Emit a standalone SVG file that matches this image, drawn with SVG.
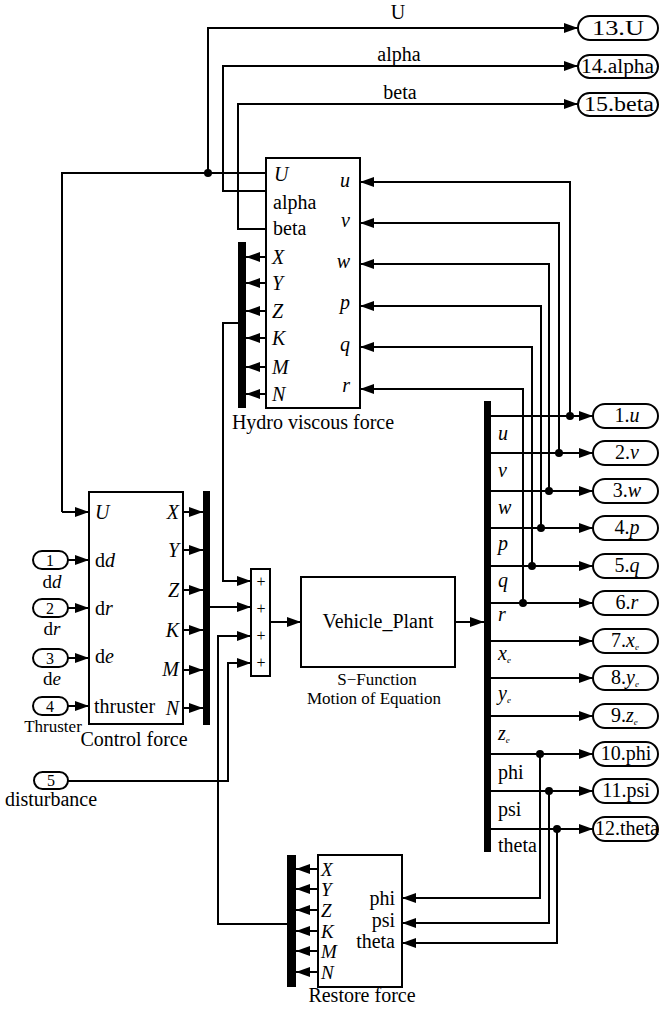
<svg xmlns="http://www.w3.org/2000/svg" width="661" height="1010" viewBox="0 0 661 1010">
<style>
.ln{stroke:#000;stroke-width:2;fill:none}
.ar{stroke:#000;stroke-width:2;fill:none;marker-end:url(#ah)}
.blk{fill:#fff;stroke:#000;stroke-width:2}
.pill{fill:#fff;stroke:#000;stroke-width:2}
.bus{fill:#000}
text{font-family:'Liberation Serif','Times New Roman',Times,serif;font-size:20px;fill:#000}
.it{font-style:italic}
.c{text-anchor:middle}
.r{text-anchor:end}
.sub{font-size:9px;font-style:italic}
.plus{font-size:16px;text-anchor:middle}
.sm{font-size:17px}
.num{font-size:16px;text-anchor:middle}
.rs{font-size:19px}
.lb{font-size:19px;text-anchor:middle}
</style>
<defs>
<marker id="ah" markerUnits="userSpaceOnUse" markerWidth="14" markerHeight="10" refX="14" refY="5" orient="auto">
<path d="M0,0 L14,5 L0,10 Z" fill="#000"/>
</marker>
</defs>
<rect width="661" height="1010" fill="#fff"/>

<g id="connectors">
<path class="ln" d="M265,173 H62 V512"/><path class="ar" d="M62,512 H89"/>
<path class="ar" d="M208,173 V28 H578"/>
<path class="ar" d="M265,191 H223 V66 H578"/>
<path class="ar" d="M265,229 H238 V104 H578"/>
<circle cx="208" cy="173" r="4"/>
<text class="c" x="398" y="19">U</text>
<text class="c" x="399" y="61">alpha</text>
<text class="c" x="400" y="99">beta</text>

<path class="ar" d="M238,323 H223 V581 H251"/>
<path class="ar" d="M210,607 H251"/>
<path class="ar" d="M287,924 H218 V636 H251"/>
<path class="ar" d="M68,781 H228 V663 H251"/>
<path class="ar" d="M270,622 H301"/>
<path class="ar" d="M455,622 H484"/>

<path class="ar" d="M491,416 H593"/>
<path class="ar" d="M491,453 H593"/>
<path class="ar" d="M491,491 H593"/>
<path class="ar" d="M491,528 H593"/>
<path class="ar" d="M491,566 H593"/>
<path class="ar" d="M491,603 H593"/>
<path class="ar" d="M491,641 H593"/>
<path class="ar" d="M491,678 H593"/>
<path class="ar" d="M491,716 H593"/>
<path class="ar" d="M491,754 H593"/>
<path class="ar" d="M491,791 H593"/>
<path class="ar" d="M491,829 H593"/>

<path class="ar" d="M570,416 V182 H360"/>
<path class="ar" d="M559,453 V223 H360"/>
<path class="ar" d="M549,491 V264 H360"/>
<path class="ar" d="M541,528 V306 H360"/>
<path class="ar" d="M532,566 V347 H360"/>
<path class="ar" d="M523,603 V389 H360"/>
<circle cx="570" cy="416" r="4"/>
<circle cx="559" cy="453" r="4"/>
<circle cx="549" cy="491" r="4"/>
<circle cx="541" cy="528" r="4"/>
<circle cx="532" cy="566" r="4"/>
<circle cx="523" cy="603" r="4"/>

<path class="ar" d="M540,754 V898 H402"/>
<path class="ar" d="M549,791 V923 H402"/>
<path class="ar" d="M557,829 V943 H402"/>
<circle cx="540" cy="754" r="4"/>
<circle cx="549" cy="791" r="4"/>
<circle cx="557" cy="829" r="4"/>

<path class="ar" d="M266,257 H246"/>
<path class="ar" d="M266,283 H246"/>
<path class="ar" d="M266,311 H246"/>
<path class="ar" d="M266,338 H246"/>
<path class="ar" d="M266,367 H246"/>
<path class="ar" d="M266,394 H246"/>

<path class="ar" d="M183,512 H203"/>
<path class="ar" d="M183,550 H203"/>
<path class="ar" d="M183,590 H203"/>
<path class="ar" d="M183,630 H203"/>
<path class="ar" d="M183,670 H203"/>
<path class="ar" d="M183,708 H203"/>

<path class="ar" d="M68,560 H89"/>
<path class="ar" d="M68,608 H89"/>
<path class="ar" d="M68,658 H89"/>
<path class="ar" d="M68,706 H89"/>

<path class="ar" d="M318,869 H296"/>
<path class="ar" d="M318,889 H296"/>
<path class="ar" d="M318,910 H296"/>
<path class="ar" d="M318,931 H296"/>
<path class="ar" d="M318,951 H296"/>
<path class="ar" d="M318,972 H296"/>
</g>

<g id="n-hydro">
<rect class="blk" x="266" y="158" width="94" height="250"/>
<rect class="bus" x="238" y="242" width="8" height="166"/>
<text class="it" x="274" y="181">U</text>
<text x="273" y="209">alpha</text>
<text x="273" y="235">beta</text>
<text class="it" x="272" y="264">X</text>
<text class="it" x="272" y="290">Y</text>
<text class="it" x="272" y="318">Z</text>
<text class="it" x="272" y="345">K</text>
<text class="it" x="272" y="374">M</text>
<text class="it" x="272" y="401">N</text>
<text class="it r" x="350" y="187">u</text>
<text class="it r" x="350" y="227">v</text>
<text class="it r" x="350" y="268">w</text>
<text class="it r" x="350" y="309">p</text>
<text class="it r" x="350" y="351">q</text>
<text class="it r" x="350" y="392">r</text>
<text class="c" x="313" y="429">Hydro viscous force</text>
</g>

<g id="n-control">
<rect class="blk" x="89" y="492" width="94" height="232"/>
<rect class="bus" x="203" y="491" width="7" height="234"/>
<text class="it" x="95" y="519">U</text>
<text x="95" y="567">d<tspan class="it">d</tspan></text>
<text x="95" y="615">d<tspan class="it">r</tspan></text>
<text x="95" y="663">d<tspan class="it">e</tspan></text>
<text x="94" y="713">thruster</text>
<text class="it r" x="179" y="519">X</text>
<text class="it r" x="179" y="557">Y</text>
<text class="it r" x="179" y="597">Z</text>
<text class="it r" x="179" y="637">K</text>
<text class="it r" x="179" y="676">M</text>
<text class="it r" x="179" y="715">N</text>
<text class="c" x="134" y="746">Control force</text>
</g>

<g id="n-sum">
<rect class="blk" x="251" y="569" width="19" height="107"/>
<text class="plus" x="261" y="587">+</text>
<text class="plus" x="261" y="614">+</text>
<text class="plus" x="261" y="641">+</text>
<text class="plus" x="261" y="668">+</text>
</g>

<g id="n-plant">
<rect class="blk" x="301" y="577" width="154" height="90"/>
<text class="c" x="378" y="628">Vehicle_Plant</text>
<text class="c sm" x="377" y="685">S−Function</text>
<text class="c sm" x="374" y="704">Motion of Equation</text>
</g>

<g id="n-bus">
<rect class="bus" x="484" y="401" width="7" height="451"/>
<text class="it" x="498" y="440">u</text>
<text class="it" x="498" y="477">v</text>
<text class="it" x="498" y="514">w</text>
<text class="it" x="498" y="550">p</text>
<text class="it" x="498" y="587">q</text>
<text class="it" x="498" y="621">r</text>
<text x="498" y="660"><tspan class="it">x</tspan><tspan class="sub" dy="3">e</tspan></text>
<text x="498" y="700"><tspan class="it">y</tspan><tspan class="sub" dy="3">e</tspan></text>
<text x="498" y="740"><tspan class="it">z</tspan><tspan class="sub" dy="3">e</tspan></text>
<text x="498" y="779">phi</text>
<text x="498" y="816">psi</text>
<text x="498" y="852">theta</text>
</g>

<g id="n-restore">
<rect class="blk" x="318" y="855" width="84" height="132"/>
<rect class="bus" x="287" y="855" width="9" height="132"/>
<text class="it rs" x="321" y="876">X</text>
<text class="it rs" x="321" y="896">Y</text>
<text class="it rs" x="321" y="917">Z</text>
<text class="it rs" x="321" y="938">K</text>
<text class="it rs" x="321" y="958">M</text>
<text class="it rs" x="321" y="979">N</text>
<text class="r" x="395" y="905">phi</text>
<text class="r" x="395" y="927">psi</text>
<text class="r" x="395" y="948">theta</text>
<text class="c" x="362" y="1002">Restore force</text>
</g>

<g id="n-in1"><rect class="pill" x="33" y="551" width="35" height="18" rx="9"/><text class="num" x="50" y="566">1</text><text class="lb" x="52" y="588">d<tspan class="it">d</tspan></text></g>
<g id="n-in2"><rect class="pill" x="33" y="599" width="35" height="18" rx="9"/><text class="num" x="50" y="614">2</text><text class="lb" x="52" y="635">d<tspan class="it">r</tspan></text></g>
<g id="n-in3"><rect class="pill" x="33" y="649" width="35" height="18" rx="9"/><text class="num" x="50" y="664">3</text><text class="lb" x="52" y="685">d<tspan class="it">e</tspan></text></g>
<g id="n-in4"><rect class="pill" x="33" y="697" width="35" height="18" rx="9"/><text class="num" x="50" y="712">4</text><text class="c sm" x="53" y="732">Thruster</text></g>
<g id="n-in5"><rect class="pill" x="34" y="772" width="34" height="17" rx="8.5"/><text class="num" x="51" y="786">5</text><text class="c" x="51" y="806">disturbance</text></g>

<g id="n-out13"><rect class="pill" x="578" y="16" width="80" height="24" rx="12"/><text x="592" y="35" textLength="52" lengthAdjust="spacingAndGlyphs">13.U</text></g>
<g id="n-out14"><rect class="pill" x="578" y="55" width="80" height="23" rx="11.5"/><text x="581" y="73" textLength="73" lengthAdjust="spacingAndGlyphs">14.alpha</text></g>
<g id="n-out15"><rect class="pill" x="578" y="93" width="80" height="23" rx="11.5"/><text x="584" y="111" textLength="70" lengthAdjust="spacingAndGlyphs">15.beta</text></g>

<g id="n-out1"><rect class="pill" x="593" y="404" width="65" height="24" rx="12"/><text class="c" x="627" y="422">1.<tspan class="it">u</tspan></text></g>
<g id="n-out2"><rect class="pill" x="593" y="441" width="65" height="24" rx="12"/><text class="c" x="627" y="459">2.<tspan class="it">v</tspan></text></g>
<g id="n-out3"><rect class="pill" x="593" y="479" width="65" height="24" rx="12"/><text class="c" x="627" y="497">3.<tspan class="it">w</tspan></text></g>
<g id="n-out4"><rect class="pill" x="593" y="516" width="65" height="24" rx="12"/><text class="c" x="627" y="534">4.<tspan class="it">p</tspan></text></g>
<g id="n-out5"><rect class="pill" x="593" y="554" width="65" height="24" rx="12"/><text class="c" x="627" y="572">5.<tspan class="it">q</tspan></text></g>
<g id="n-out6"><rect class="pill" x="593" y="591" width="65" height="24" rx="12"/><text class="c" x="627" y="609">6.<tspan class="it">r</tspan></text></g>
<g id="n-out7"><rect class="pill" x="593" y="629" width="65" height="24" rx="12"/><text x="611" y="647">7.<tspan class="it">x</tspan><tspan class="sub" dy="3">e</tspan></text></g>
<g id="n-out8"><rect class="pill" x="593" y="666" width="65" height="24" rx="12"/><text x="611" y="684">8.<tspan class="it">y</tspan><tspan class="sub" dy="3">e</tspan></text></g>
<g id="n-out9"><rect class="pill" x="593" y="704" width="65" height="24" rx="12"/><text x="611" y="722">9.<tspan class="it">z</tspan><tspan class="sub" dy="3">e</tspan></text></g>
<g id="n-out10"><rect class="pill" x="593" y="742" width="65" height="24" rx="12"/><text class="c" x="626" y="760">10.phi</text></g>
<g id="n-out11"><rect class="pill" x="593" y="779" width="65" height="24" rx="12"/><text class="c" x="626" y="797">11.psi</text></g>
<g id="n-out12"><rect class="pill" x="593" y="817" width="65" height="24" rx="12"/><text class="c" x="627" y="835">12.theta</text></g>
</svg>
